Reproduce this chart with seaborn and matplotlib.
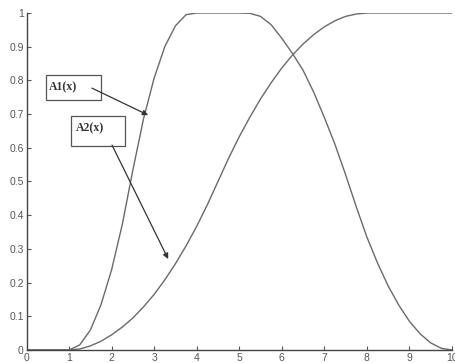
import matplotlib
matplotlib.use("Agg")
import matplotlib.pyplot as plt
import seaborn as sns
import pandas as pd
from matplotlib.patches import Rectangle

x_vals = [0.0, 0.25, 0.5, 0.75, 1.0, 1.25, 1.5, 1.75, 2.0, 2.25, 2.5, 2.75, 3.0, 3.25,
          3.5, 3.75, 4.0, 4.25, 4.5, 4.75, 5.0, 5.25, 5.5, 5.75, 6.0, 6.25, 6.5, 6.75,
          7.0, 7.25, 7.5, 7.75, 8.0, 8.25, 8.5, 8.75, 9.0, 9.25, 9.5, 9.75, 10.0]
a1_vals = [0, 0, 0, 0, 0, 0.015, 0.059, 0.134, 0.238, 0.372, 0.534, 0.686, 0.807, 0.90,
           0.962, 0.995, 1, 1, 1, 1, 1, 0.999, 0.99, 0.965, 0.925, 0.88, 0.83, 0.765,
           0.69, 0.61, 0.52, 0.425, 0.335, 0.258, 0.19, 0.133, 0.085, 0.048, 0.021, 0.005, 0]
a2_vals = [0, 0, 0, 0, 0, 0.003, 0.012, 0.026, 0.045, 0.068, 0.095, 0.128, 0.165, 0.208,
           0.256, 0.309, 0.367, 0.431, 0.5, 0.569, 0.633, 0.691, 0.745, 0.793, 0.837,
           0.875, 0.908, 0.936, 0.959, 0.977, 0.990, 0.997, 1, 1, 1, 1, 1, 1, 1, 1, 1]
x_ticks = [0, 1, 2, 3, 4, 5, 6, 7, 8, 9, 10]
y_ticks = [0, 0.1, 0.2, 0.3, 0.4, 0.5, 0.6, 0.7, 0.8, 0.9, 1]
y_tick_labels = ["0", "0.1", "0.2", "0.3", "0.4", "0.5", "0.6", "0.7", "0.8", "0.9", "1"]

sns.set_style("ticks")
plt.rcParams["font.family"] = ["Liberation Sans", "DejaVu Sans"]

df = pd.DataFrame({"x": x_vals + x_vals,
                   "y": a1_vals + a2_vals,
                   "curve": ["A1"] * len(x_vals) + ["A2"] * len(x_vals)})

fig = plt.figure(figsize=(4.55, 3.63), dpi=100)
ax = fig.add_axes([26.5 / 455, (363 - 350) / 363, (452 - 26.5) / 455, (350 - 13) / 363])
sns.lineplot(data=df, x="x", y="y", units="curve", estimator=None, color="#6a6a6a",
             lw=1.0, ax=ax, legend=False)

ax.set_xlim(0, 10)
ax.set_ylim(0, 1)
ax.set_xticks(x_ticks)
ax.set_xticklabels([str(t) for t in x_ticks])
ax.set_yticks(y_ticks)
ax.set_yticklabels(y_tick_labels)
ax.set_xlabel("")
ax.set_ylabel("")
ax.tick_params(direction="in", length=3, width=0.8, labelsize=7.5, colors="#555555",
               pad=2)
for s in ["top", "right"]:
    ax.spines[s].set_visible(False)
for s in ["left", "bottom"]:
    ax.spines[s].set_color("#444444")
    ax.spines[s].set_linewidth(1.0)

serif = ["Liberation Serif", "DejaVu Serif"]

# label boxes
ax.add_patch(Rectangle((0.46, 0.742), 1.29, 0.074, fill=False, ec="#555555", lw=0.9,
                       clip_on=False))
ax.text(0.52, 0.779, "A1(x)", family=serif, fontsize=8.5,
        fontweight="bold", color="#333333", va="center", ha="left")
ax.annotate("", xy=(2.86, 0.697), xytext=(1.54, 0.777),
            arrowprops=dict(arrowstyle="-|>", color="#333333", lw=0.9,
                            mutation_scale=8, shrinkA=0, shrinkB=0))

ax.add_patch(Rectangle((1.05, 0.605), 1.27, 0.089, fill=False, ec="#555555", lw=0.9,
                       clip_on=False))
ax.text(1.17, 0.659, "A2(x)", family=serif, fontsize=8.5,
        fontweight="bold", color="#333333", va="center", ha="left")
ax.annotate("", xy=(3.33, 0.27), xytext=(2.01, 0.608),
            arrowprops=dict(arrowstyle="-|>", color="#333333", lw=0.9,
                            mutation_scale=8, shrinkA=0, shrinkB=0))

fig.savefig("out.png", dpi=100, facecolor="white")
